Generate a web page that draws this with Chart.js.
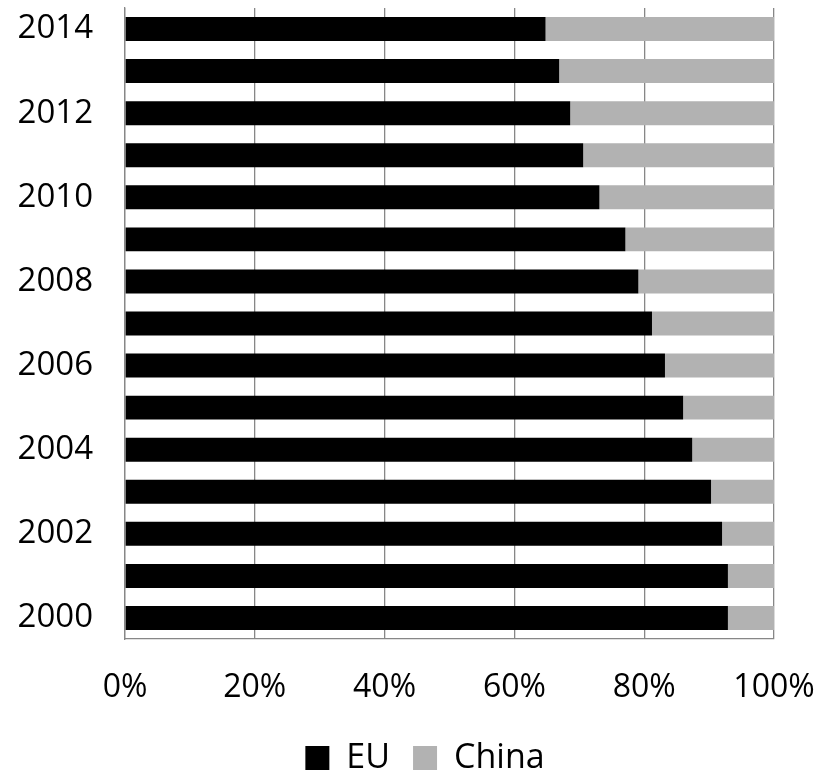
<!DOCTYPE html>
<html>
<head>
<meta charset="utf-8">
<script src="https://cdn.jsdelivr.net/npm/chart.js@4"></script>
<style>
  html, body { margin: 0; padding: 0; background: #fff; }
  #wrap { width: 832px; height: 775px; }
</style>
</head>
<body>
<div id="wrap"><canvas id="share_chart" width="832" height="775"></canvas></div>
<script>
var years = [2000, 2001, 2002, 2003, 2004, 2005, 2006, 2007, 2008, 2009, 2010, 2011, 2012, 2013, 2014];
var eu_share = [92.9, 92.9, 92.0, 90.3, 87.4, 86.0, 83.2, 81.2, 79.1, 77.1, 73.1, 70.6, 68.6, 66.9, 64.8];
var china_share = [7.1, 7.1, 8.0, 9.7, 12.6, 14.0, 16.8, 18.8, 20.9, 22.9, 26.9, 29.4, 31.4, 33.1, 35.2];
var x_ticks = [0, 20, 40, 60, 80, 100];

var axis_grey = '#878787';
var font_family = "'Open Sans', sans-serif";

var share_chart_ctx = document.getElementById('share_chart').getContext('2d');

new Chart(share_chart_ctx, {
  type: 'bar',
  data: {
    labels: years,
    datasets: [{
      label: 'EU',
      data: eu_share,
      backgroundColor: '#000000',
      barPercentage: 0.57,
      categoryPercentage: 1
    }, {
      label: 'China',
      data: china_share,
      backgroundColor: '#b2b2b2',
      barPercentage: 0.57,
      categoryPercentage: 1
    }]
  },
  options: {
    indexAxis: 'y',
    responsive: false,
    animation: false,
    // negative bottom pushes the legend down to where the original has it
    layout: { padding: { top: 8, right: 0, bottom: -10, left: 18 } },
    scales: {
      x: {
        stacked: true,
        min: 0,
        max: 100,
        afterBuildTicks: function(scale) {
          scale.ticks = x_ticks.map(function(v) { return { value: v }; });
        },
        afterFit: function(scale) {
          scale.height = 79;
          scale.paddingLeft = 0;
          scale.paddingRight = 58;
        },
        grid: { color: axis_grey, lineWidth: 1.3, drawTicks: false },
        border: { color: axis_grey, width: 1.3 },
        ticks: {
          color: '#000',
          padding: 30,
          font: { family: font_family, size: 32 },
          maxRotation: 0,
          callback: function(v) { return v + '%'; }
        }
      },
      y: {
        stacked: true,
        reverse: true,
        afterFit: function(scale) {
          scale.width = 107;
          scale.paddingTop = 0;
          scale.paddingBottom = 0;
        },
        grid: { display: false, drawTicks: false },
        border: { color: axis_grey, width: 1.3 },
        ticks: {
          color: '#000',
          padding: 32,
          autoSkip: false,
          font: { family: font_family, size: 33 },
          callback: function(val) {
            var year = years[val];
            return year % 2 === 0 ? String(year) : '';
          }
        }
      }
    },
    plugins: {
      tooltip: { enabled: false },
      legend: {
        position: 'bottom',
        labels: {
          color: '#000',
          boxWidth: 24,
          boxHeight: 24,
          padding: 23,
          font: { family: font_family, size: 34 }
        }
      }
    }
  }
});
</script>
</body>
</html>
